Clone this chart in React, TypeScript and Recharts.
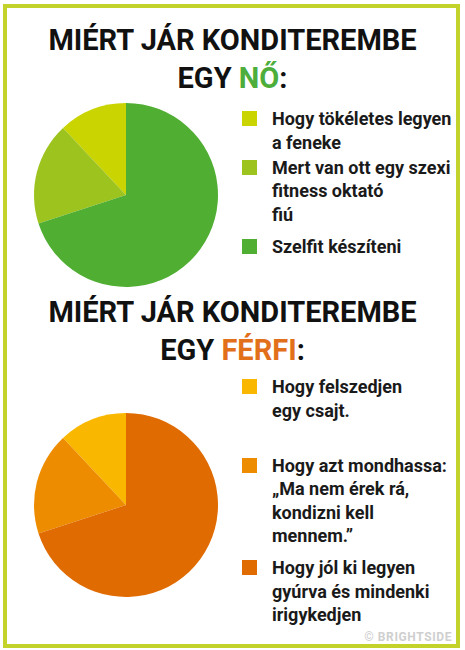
import React from 'react';
import { PieChart, Pie, Cell } from 'recharts';

// Why does a woman / a man go to the gym
const womanReasons = ['Hogy tökéletes legyen\na feneke', 'Mert van ott egy szexi\nfitness oktató\nfiú', 'Szelfit készíteni'];
const womanShares = [12, 18, 70];
const womanColors = ['#C9D400', '#9DC41E', '#50AE33'];

const manReasons = ['Hogy felszedjen\negy csajt.', 'Hogy azt mondhassa:\n„Ma nem érek rá,\nkondizni kell\nmennem.”', 'Hogy jól ki legyen\ngyúrva és mindenki\nirigykedjen'];
const manShares = [12, 18, 70];
const manColors = ['#FAB700', '#EE8C00', '#E06B00'];

const titleLine = 'MIÉRT JÁR KONDITEREMBE';

const FONT = 'Roboto, "Liberation Sans", sans-serif';

function Title({ top, who, color }: { top: number; who: string; color: string }) {
  const line: React.CSSProperties = {
    position: 'absolute',
    left: 0,
    width: 465,
    textAlign: 'center',
    fontSize: 29,
    lineHeight: '29px',
    fontWeight: 700,
    color: '#111',
  };
  return (
    <>
      <div style={{ ...line, top }}>{titleLine}</div>
      <div style={{ ...line, top: top + 38 }}>
        EGY <span style={{ color }}>{who}</span>:
      </div>
    </>
  );
}

function ReasonPie({ names, values, colors, top }: { names: string[]; values: number[]; colors: string[]; top: number }) {
  const data = names.map((name, i) => ({ name, value: values[i] }));
  return (
    <div style={{ position: 'absolute', left: 1, top }}>
      <PieChart width={240} height={240}>
        <Pie
          data={data}
          dataKey="value"
          nameKey="name"
          cx={120}
          cy={120}
          outerRadius={92}
          startAngle={90}
          endAngle={450}
          stroke="none"
          isAnimationActive={false}
        >
          {data.map((_, i) => (
            <Cell key={i} fill={colors[i]} />
          ))}
        </Pie>
      </PieChart>
    </div>
  );
}

function ReasonLegend({ names, colors, top, gaps }: { names: string[]; colors: string[]; top: number; gaps: number[] }) {
  return (
    <div style={{ position: 'absolute', left: 242, top, width: 215 }}>
      {names.map((n, i) => (
        <div key={i} style={{ position: 'relative', marginTop: gaps[i], paddingLeft: 30 }}>
          <div style={{ position: 'absolute', left: 0, top: 4, width: 15, height: 15, background: colors[i] }} />
          <div
            style={{
              whiteSpace: 'pre',
              fontSize: 18,
              lineHeight: '23.5px',
              fontWeight: 700,
              color: '#1a1a1a',
            }}
          >
            {n}
          </div>
        </div>
      ))}
    </div>
  );
}

export default function App() {
  return (
    <div
      style={{
        position: 'absolute',
        left: 0,
        top: 0,
        width: 465,
        height: 650,
        background: '#fff',
        fontFamily: FONT,
        overflow: 'hidden',
      }}
    >
      <div
        style={{
          position: 'absolute',
          left: 3,
          top: 4,
          width: 457,
          height: 644,
          boxSizing: 'border-box',
          border: '4px solid #C3D32B',
        }}
      />
      <Title top={26} who="NŐ" color="#4DAE3C" />
      <ReasonPie names={womanReasons} values={womanShares} colors={womanColors} top={70} />
      <ReasonLegend names={womanReasons} colors={womanColors} top={107} gaps={[0, 1.5, 8.5]} />

      <Title top={298} who="FÉRFI" color="#E2701B" />
      <ReasonPie names={manReasons} values={manShares} colors={manColors} top={380} />
      <ReasonLegend names={manReasons} colors={manColors} top={375} gaps={[0, 31.5, 8.5]} />

      <div
        style={{
          position: 'absolute',
          right: 13,
          top: 630,
          fontSize: 12,
          fontWeight: 700,
          letterSpacing: 0.6,
          color: '#cfcfcf',
        }}
      >
        © BRIGHTSIDE
      </div>
    </div>
  );
}
